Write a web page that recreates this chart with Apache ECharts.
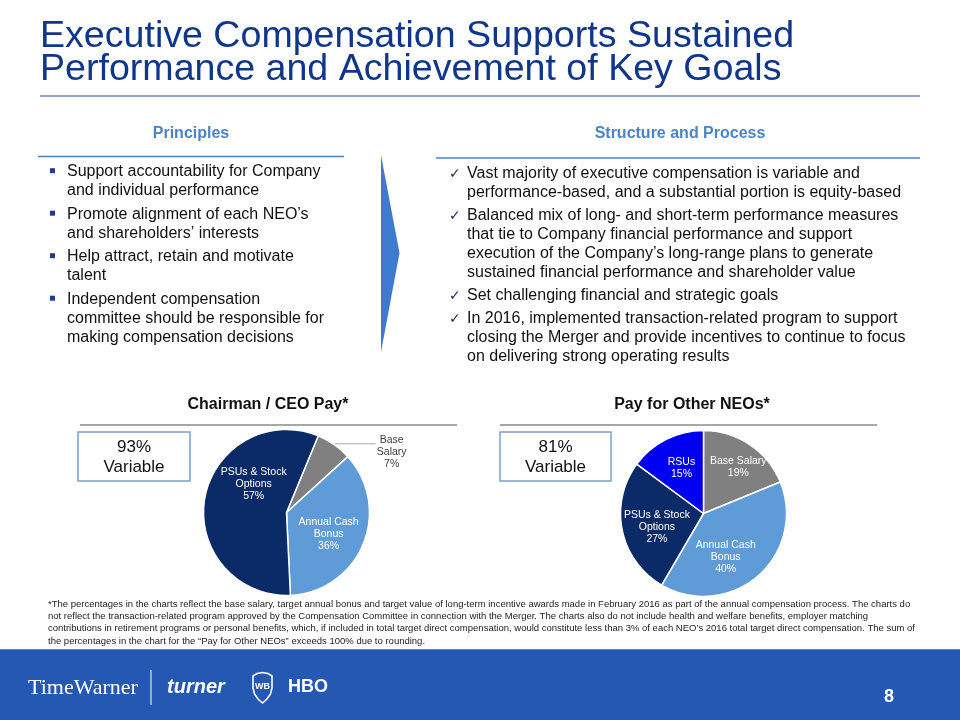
<!DOCTYPE html>
<html><head><meta charset="utf-8">
<script src="https://cdn.jsdelivr.net/npm/echarts@6/dist/echarts.min.js"></script>
<style>html,body{margin:0;padding:0;background:#fff}#c{width:960px;height:720px}</style>
</head><body><div id="c"></div>
<script>
// ---------- content / data ----------
const titleLines = ['Executive Compensation Supports Sustained', 'Performance and Achievement of Key Goals'];
const principlesHeading = 'Principles';
const principles = [
  ['Support accountability for Company', 'and individual performance'],
  ['Promote alignment of each NEO\u2019s', 'and shareholders\u2019 interests'],
  ['Help attract, retain and motivate', 'talent'],
  ['Independent compensation', 'committee should be responsible for', 'making compensation decisions']
];
const structureHeading = 'Structure and Process';
const structure = [
  ['Vast majority of executive compensation is variable and', 'performance-based, and a substantial portion is equity-based'],
  ['Balanced mix of long- and short-term performance measures', 'that tie to Company financial performance and support', 'execution of the Company\u2019s long-range plans to generate', 'sustained financial performance and shareholder value'],
  ['Set challenging financial and strategic goals'],
  ['In 2016, implemented transaction-related program to support', 'closing the Merger and provide incentives to continue to focus', 'on delivering strong operating results']
];
const ceoTitle = 'Chairman / CEO Pay*';
const ceoVariable = ['93%', 'Variable'];
const ceoCategories = ['Base Salary', 'Annual Cash Bonus', 'PSUs & Stock Options'];
const ceoLabelNames = ['Base\nSalary', 'Annual Cash\nBonus', 'PSUs & Stock\nOptions'];
const ceoValues = [7, 36, 57];

const neoTitle = 'Pay for Other NEOs*';
const neoVariable = ['81%', 'Variable'];
const neoCategories = ['Base Salary', 'Annual Cash Bonus', 'PSUs & Stock Options', 'RSUs'];
const neoLabelNames = ['Base Salary', 'Annual Cash\nBonus', 'PSUs & Stock\nOptions', 'RSUs'];
const neoValues = [19, 40, 27, 15];

const footnote = [
  '*The percentages in the charts reflect the base salary, target annual bonus and target value of long-term incentive awards made in February 2016 as part of the annual compensation process. The charts do',
  'not reflect the transaction-related program approved by the Compensation Committee in connection with the Merger. The charts also do not include health and welfare benefits, employer matching',
  'contributions in retirement programs or personal benefits, which, if included in total target direct compensation, would constitute less than 3% of each NEO\u2019s 2016 total target direct compensation. The sum of',
  'the percentages in the chart for the \u201cPay for Other NEOs\u201d exceeds 100% due to rounding.'
];
const pageNumber = '8';

// ---------- styles ----------
const FONT = '"Liberation Sans", Arial, Helvetica, sans-serif';
const colorMap = {
  'Base Salary': '#808080',
  'Annual Cash Bonus': '#5f9bd6',
  'PSUs & Stock Options': '#0b2a68',
  'RSUs': '#0000f2'
};
// label nudges (style) relative to library-computed label positions
const ceoLabelNudge = {'Base Salary': [0, 8], 'Annual Cash Bonus': [1, 5], 'PSUs & Stock Options': [11, -21]};
const neoLabelNudge = {'Base Salary': [10, -9], 'Annual Cash Bonus': [-7, 10], 'PSUs & Stock Options': [-3, 5], 'RSUs': [-2, -6]};

function txt(x, y, text, font, fill, align, valign) {
  return {
    type: 'text', x: x, y: y, silent: true,
    style: {text: text, font: font, fill: fill, align: align || 'left', textAlign: align || 'left',
      verticalAlign: valign || 'middle', textVerticalAlign: valign || 'middle'}
  };
}
function line(x1, y1, x2, y2, color, w) {
  return {type: 'line', silent: true, shape: {x1: x1, y1: y1, x2: x2, y2: y2}, style: {stroke: color, lineWidth: w}};
}

const els = [];
// Title
els.push(txt(40, 37, titleLines[0], '37.6px ' + FONT, '#0f368b'));
els.push(txt(40, 70, titleLines[1], '37.6px ' + FONT, '#0f368b'));
els.push(line(40, 96, 920, 96, '#2b4c8c', 1.2));

// Principles
els.push(txt(191, 134, principlesHeading, 'bold 16px ' + FONT, '#4b83c6', 'center'));
els.push(line(38, 156.5, 344, 156.5, '#4a7fc1', 1.5));
let y = 171.7;
principles.forEach(function (para) {
  els.push({type: 'rect', silent: true, shape: {x: 50, y: y - 3.5, width: 5, height: 5}, style: {fill: '#1f3c8c'}});
  para.forEach(function (ln) { els.push(txt(67, y, ln, '16px ' + FONT, '#111')); y += 19; });
  y += 4.5;
});

// Arrow
els.push({type: 'polygon', silent: true, shape: {points: [[381, 155], [399.5, 253], [381, 352]]}, style: {fill: '#3e7bcf'}});

// Structure and Process
els.push(txt(680, 134, structureHeading, 'bold 16px ' + FONT, '#4b83c6', 'center'));
els.push(line(436, 158, 920, 158, '#4a7fc1', 1.5));
y = 174;
structure.forEach(function (para) {
  els.push(txt(449, y, '\u2713', '14px "DejaVu Sans", sans-serif', '#1a2a5a'));
  para.forEach(function (ln) { els.push(txt(467, y, ln, '16px ' + FONT, '#111')); y += 19; });
  y += 4;
});

// Chart headers & boxes
els.push(txt(268, 405, ceoTitle, 'bold 16px ' + FONT, '#111', 'center'));
els.push(line(80, 425, 457, 425, '#8a8a8a', 1.5));
els.push({type: 'rect', silent: true, shape: {x: 78, y: 432, width: 112, height: 49}, style: {fill: '#fff', stroke: '#7d9fc8', lineWidth: 1.5}});
els.push(txt(134, 447, ceoVariable[0], '17px ' + FONT, '#111', 'center'));
els.push(txt(134, 467, ceoVariable[1], '17px ' + FONT, '#111', 'center'));

els.push(txt(692, 405, neoTitle, 'bold 16px ' + FONT, '#111', 'center'));
els.push(line(500, 425, 877, 425, '#8a8a8a', 1.5));
els.push({type: 'rect', silent: true, shape: {x: 500, y: 432, width: 111, height: 49}, style: {fill: '#fff', stroke: '#7d9fc8', lineWidth: 1.5}});
els.push(txt(555.5, 447, neoVariable[0], '17px ' + FONT, '#111', 'center'));
els.push(txt(555.5, 467, neoVariable[1], '17px ' + FONT, '#111', 'center'));

// Footnote
footnote.forEach(function (ln, i) {
  els.push(txt(48, 604 + i * 12.3, ln, '9.5px ' + FONT, '#222'));
});

// Footer band
els.push({type: 'rect', silent: true, shape: {x: 0, y: 649, width: 960, height: 71}, style: {fill: '#2458b2'}});
els.push(line(0, 649.5, 960, 649.5, '#5a86cc', 1));
els.push(txt(28, 688, 'TimeWarner', '22px "Liberation Serif", "Times New Roman", serif', '#fff'));
els.push(line(151, 670, 151, 705, '#ffffff', 1));
els.push(txt(167, 687, 'turner', 'italic 900 20px ' + FONT, '#fff'));
els.push({type: 'polygon', silent: true, shape: {points: [[253,676],[257,673.5],[262.5,672.5],[268,673.5],[272,676],[272,688],[270.5,694],[267,699],[262.5,703],[258,699],[254.5,694],[253,688]]},
  style: {fill: 'none', stroke: '#fff', lineWidth: 1.6}});
els.push(txt(262.5, 687, 'WB', 'bold 9px ' + FONT, '#fff', 'center'));
els.push(txt(288, 687, 'HBO', '900 18px ' + FONT, '#fff'));
els.push(txt(889, 697, pageNumber, 'bold 18px ' + FONT, '#fff', 'center'));

function makeLayout(categories, nudge, outsideName) {
  return function (p) {
    const name = categories[p.dataIndex];
    const n = nudge[name] || [0, 0];
    const r = p.labelRect;
    const res = {x: r.x + r.width / 2 + n[0], y: r.y + r.height / 2 + n[1], align: 'center', verticalAlign: 'middle'};
    if (name === outsideName && p.labelLinePoints) res.labelLinePoints = p.labelLinePoints;
    return res;
  };
}

const chart = echarts.init(document.getElementById('c'), null, {renderer: 'canvas'});
chart.setOption({
  animation: false,
  backgroundColor: '#ffffff',
  graphic: {elements: els},
  series: [
    {
      type: 'pie', center: [286.5, 512.5], radius: [0, 83], startAngle: 67.5, clockwise: true,
      avoidLabelOverlap: false, silent: true, z: 5,
      itemStyle: {borderColor: '#fff', borderWidth: 1.5},
      label: {show: true, position: 'inside', color: '#fff', fontSize: 10.5, fontFamily: FONT, lineHeight: 12,
        formatter: function (p) { return ceoLabelNames[p.dataIndex] + '\n' + p.value + '%'; }},
      labelLayout: makeLayout(ceoCategories, ceoLabelNudge, 'Base Salary'),
      data: ceoCategories.map(function (n, i) {
        const d = {name: n, value: ceoValues[i], itemStyle: {color: colorMap[n]}};
        if (n === 'Base Salary') {
          d.label = {position: 'outside', color: '#404040', distanceToLabelLine: 1};
          d.labelLine = {show: true, length: 1, length2: 41, smooth: false, lineStyle: {color: '#a6a6a6', width: 1}};
        }
        return d;
      })
    },
    {
      type: 'pie', center: [703.5, 513.5], radius: [0, 83], startAngle: 90, clockwise: true,
      avoidLabelOverlap: false, silent: true, z: 5,
      itemStyle: {borderColor: '#fff', borderWidth: 1.5},
      label: {show: true, position: 'inside', color: '#fff', fontSize: 10.5, fontFamily: FONT, lineHeight: 12,
        formatter: function (p) { return neoLabelNames[p.dataIndex] + '\n' + p.value + '%'; }},
      labelLayout: makeLayout(neoCategories, neoLabelNudge, null),
      data: neoCategories.map(function (n, i) {
        return {name: n, value: neoValues[i], itemStyle: {color: colorMap[n]}};
      })
    }
  ]
});
</script>
</body></html>
